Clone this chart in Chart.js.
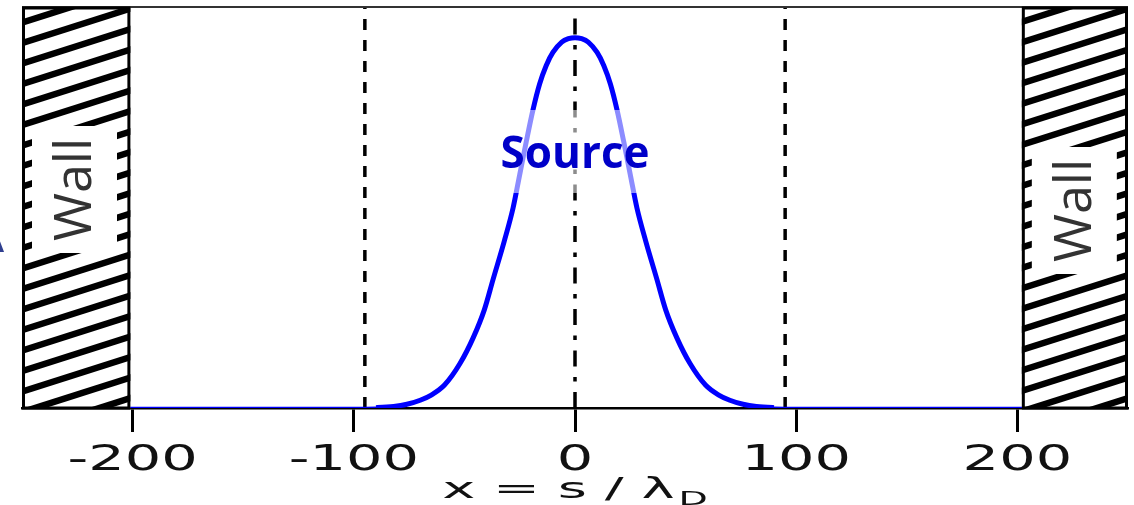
<!DOCTYPE html>
<html>
<head>
<meta charset="utf-8">
<script src="https://cdn.jsdelivr.net/npm/chart.js@4.4.1/dist/chart.umd.min.js"></script>
<style>
  html, body { margin: 0; padding: 0; background: #fff; }
  #wrap { width: 1134px; height: 505px; position: relative; }
</style>
</head>
<body>
<div id="wrap"><canvas id="sourceChart"></canvas></div>
<script>
// source profile along the field line, x in Debye lengths
const sourceX = [-250, -100, -90, -82, -76, -70, -65, -59, -52, -46, -41, -37, -32, -28, -25, -22, -19, -16, -13, -10, -6, -3, 0,
                 3, 6, 10, 13, 16, 19, 22, 25, 28, 32, 37, 41, 46, 52, 59, 65, 70, 76, 82, 90, 100, 250]
const sourceY = [0, 0, 0.001, 0.004, 0.01, 0.021, 0.035, 0.062, 0.12, 0.19, 0.265, 0.348, 0.45, 0.54, 0.63, 0.72, 0.805, 0.875, 0.925, 0.96, 0.988, 0.997, 1,
                 0.997, 0.988, 0.96, 0.925, 0.875, 0.805, 0.72, 0.63, 0.54, 0.45, 0.348, 0.265, 0.19, 0.12, 0.062, 0.035, 0.021, 0.01, 0.004, 0.001, 0, 0]

const tickValues = [-200, -100, 0, 100, 200]
const dashedLines = [-95, 95]
const centerLine = 0
const wallLeft = [-250, -201]
const wallRight = [202, 250]
const xRange = [-250, 250]
const yRange = [0, 1.08]

const curvePoints = sourceX.map((x, i) => ({ x: x, y: sourceY[i] }))
const vline = x => [{ x: x, y: yRange[0] }, { x: x, y: yRange[1] }]

// walls, labels, source box and stretched axis text
const decor = {
  id: "decor",
  afterDatasetsDraw(chart) {
    const ctx = chart.ctx
    const area = chart.chartArea
    const xs = chart.scales.x

    // frame line along the top
    ctx.save()
    ctx.strokeStyle = "#333"
    ctx.lineWidth = 2
    ctx.beginPath()
    ctx.moveTo(area.left, area.top - 1)
    ctx.lineTo(area.right, area.top - 1)
    ctx.stroke()

    // faded box behind the "Source" label
    const cx = xs.getPixelForValue(centerLine)
    ctx.fillStyle = "rgba(255,255,255,0.55)"
    ctx.fillRect(cx - 77, 110, 154, 83)
    ctx.fillStyle = "#0000c8"
    ctx.font = "bold 44px 'Open Sans'"
    ctx.textAlign = "center"
    ctx.textBaseline = "alphabetic"
    ctx.fillText("Source", cx, 168)

    // hatched walls
    const walls = [
      { r: wallLeft, boxTop: 126 },
      { r: wallRight, boxTop: 147 },
    ]
    walls.forEach(w => {
      const x0 = xs.getPixelForValue(w.r[0])
      const x1 = xs.getPixelForValue(w.r[1])
      const h = area.bottom - area.top
      ctx.save()
      ctx.beginPath()
      ctx.rect(x0, area.top, x1 - x0, h)
      ctx.clip()
      ctx.fillStyle = "#fff"
      ctx.fillRect(x0, area.top, x1 - x0, h)
      ctx.strokeStyle = "#000"
      ctx.lineWidth = 6.5
      const rise = 0.33 * (x1 - x0)
      for (let y = area.bottom + 10 + rise; y > area.top - 30; y -= 20.5) {
        ctx.beginPath()
        ctx.moveTo(x0 - 2, y)
        ctx.lineTo(x1 + 2, y - rise)
        ctx.stroke()
      }
      ctx.restore()
      ctx.strokeStyle = "#000"
      ctx.lineWidth = 3
      ctx.strokeRect(x0 + 1.5, area.top, x1 - x0 - 3, h)

      // label box
      const bx = x0 + 10
      const bw = 85
      const bh = 127
      ctx.fillStyle = "#fff"
      ctx.fillRect(bx, w.boxTop, bw, bh)
      ctx.save()
      ctx.translate(bx + bw / 2, w.boxTop + bh / 2)
      ctx.rotate(-Math.PI / 2)
      ctx.fillStyle = "#333"
      ctx.font = "52px 'Open Sans'"
      ctx.textAlign = "center"
      ctx.textBaseline = "middle"
      ctx.fillText("Wall", 0, 2)
      ctx.restore()
    })

    // clipped axis-label glyph at the left edge
    ctx.fillStyle = "#2f3f8f"
    ctx.font = "30px 'DejaVu Sans'"
    ctx.textAlign = "center"
    ctx.textBaseline = "alphabetic"
    ctx.fillText("\u0394", -6, 252)
    ctx.restore()
  },
  afterDraw(chart) {
    const ctx = chart.ctx
    const xs = chart.scales.x
    ctx.save()
    ctx.fillStyle = "#111"
    ctx.font = "35px 'DejaVu Sans'"
    ctx.textAlign = "center"
    ctx.textBaseline = "middle"
    xs.ticks.forEach(t => {
      const px = xs.getPixelForValue(t.value)
      ctx.save()
      ctx.translate(px, 461)
      ctx.scale(1.64, 1)
      ctx.fillText(t.label, 0, 0)
      ctx.restore()
    })

    // axis title: x = s / lambda_D
    const main = "x = s / \u03bb"
    ctx.font = "28px 'DejaVu Sans'"
    const wMain = ctx.measureText(main).width
    ctx.font = "19px 'DejaVu Sans'"
    const wSub = ctx.measureText("D").width
    const stretch = 2.0
    const total = (wMain + 2 + wSub) * stretch
    const cx = xs.getPixelForValue(0)
    ctx.translate(cx - total / 2, 498)
    ctx.scale(stretch, 1)
    ctx.textAlign = "left"
    ctx.textBaseline = "alphabetic"
    ctx.font = "28px 'DejaVu Sans'"
    ctx.fillText(main, 0, 0)
    ctx.font = "19px 'DejaVu Sans'"
    ctx.fillText("D", wMain + 2, 7)
    ctx.restore()
  },
}

const data = {
  datasets: [
    {
      label: "center",
      data: vline(centerLine),
      borderColor: "#000",
      borderWidth: 3.5,
      borderDash: [16, 10.5, 4.5, 10.5],
      pointRadius: 0,
      order: 0,
    },
    {
      label: "source",
      data: curvePoints,
      borderColor: "#0000ff",
      borderWidth: 5,
      cubicInterpolationMode: "monotone",
      pointRadius: 0,
      order: 1,
      segment: {
        borderWidth: c => (c.p0.parsed.y < 0.002 && c.p1.parsed.y < 0.002 ? 2.5 : 5),
      },
    },
    ...dashedLines.map(x => ({
      label: "edge " + x,
      data: vline(x),
      borderColor: "#000",
      borderWidth: 3.5,
      borderDash: [11, 10],
      pointRadius: 0,
      order: 2,
    })),
  ],
}

const config = {
  type: "line",
  data: data,
  options: {
    responsive: true,
    maintainAspectRatio: false,
    animation: false,
    layout: { padding: { left: 22, right: 6, top: 8, bottom: 73 } },
    plugins: { legend: { display: false }, tooltip: { enabled: false } },
    scales: {
      x: {
        type: "linear",
        min: xRange[0],
        max: xRange[1],
        afterBuildTicks: s => { s.ticks = tickValues.map(v => ({ value: v })) },
        ticks: { display: false },
        grid: { drawOnChartArea: false, drawTicks: true, tickLength: 24, tickWidth: 3, tickColor: "#000" },
        border: { display: true, color: "#000", width: 2.5 },
      },
      y: {
        display: false,
        min: yRange[0],
        max: yRange[1],
      },
    },
  },
  plugins: [decor],
}

const sourceChart = new Chart(document.getElementById("sourceChart"), config)
</script>
</body>
</html>
